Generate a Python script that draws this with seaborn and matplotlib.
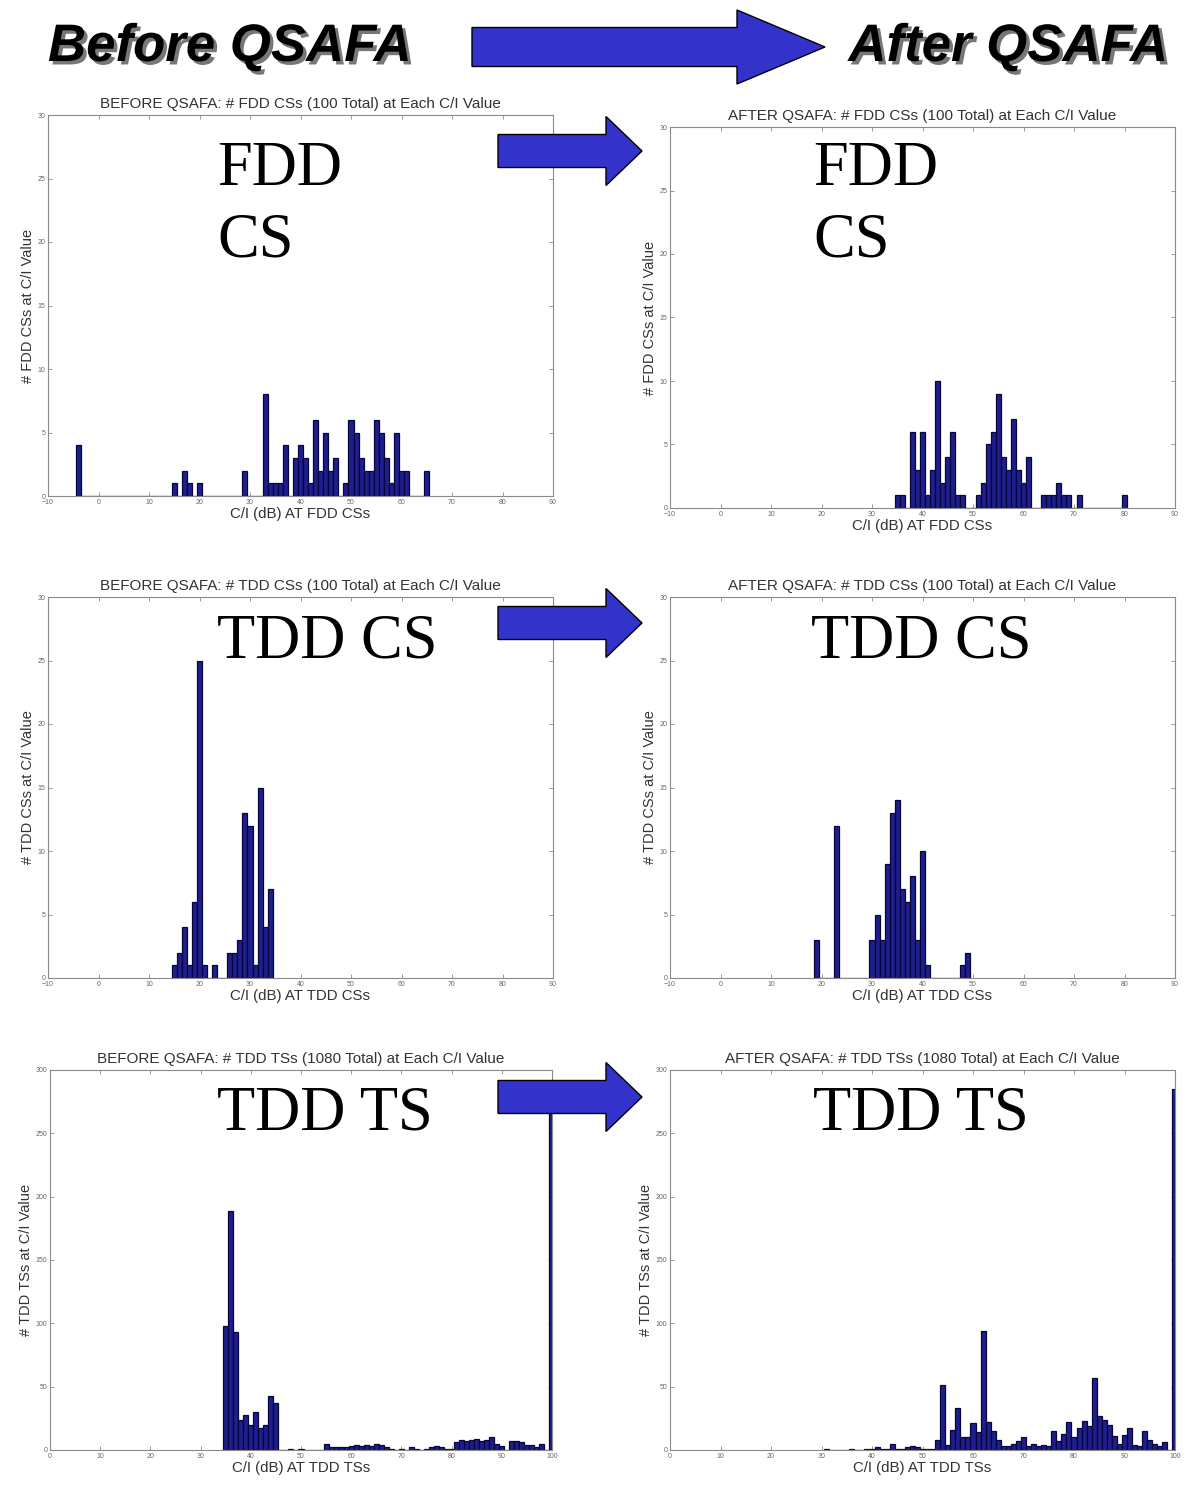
import numpy as np
import pandas as pd
import seaborn as sns
import matplotlib
matplotlib.use("Agg")
import matplotlib.pyplot as plt
import matplotlib.patheffects as pe
from matplotlib.patches import Polygon

# ---------------- data ----------------
fdd_before_x = [-4, 15, 17, 18, 20, 29, 33, 34, 35, 36, 37, 39, 40, 41, 42, 43, 44, 45, 46, 47,
                49, 50, 51, 52, 53, 54, 55, 56, 57, 58, 59, 60, 61, 65]
fdd_before_n = [4, 1, 2, 1, 1, 2, 8, 1, 1, 1, 4, 3, 4, 3, 1, 6, 2, 5, 2, 3,
                1, 6, 5, 3, 2, 2, 6, 5, 3, 1, 5, 2, 2, 2]

fdd_after_x = [35, 36, 38, 39, 40, 41, 42, 43, 44, 45, 46, 47, 48,
               51, 52, 53, 54, 55, 56, 57, 58, 59, 60, 61, 64, 65, 66, 67, 68, 69, 71, 80]
fdd_after_n = [1, 1, 6, 3, 6, 1, 3, 10, 2, 4, 6, 1, 1,
               1, 2, 5, 6, 9, 4, 3, 7, 3, 2, 4, 1, 1, 1, 2, 1, 1, 1, 1]

tddcs_before_x = [15, 16, 17, 18, 19, 20, 21, 23, 26, 27, 28, 29, 30, 31, 32, 33, 34]
tddcs_before_n = [1, 2, 4, 1, 6, 25, 1, 1, 2, 2, 3, 13, 12, 1, 15, 4, 7]

tddcs_after_x = [19, 23, 30, 31, 32, 33, 34, 35, 36, 37, 38, 39, 40, 41, 48, 49]
tddcs_after_n = [3, 12, 3, 5, 3, 9, 13, 14, 7, 6, 8, 3, 10, 1, 1, 2]

tddts_before_x = [35, 36, 37, 38, 39, 40, 41, 42, 43, 44, 45, 48, 50,
                  55, 56, 57, 58, 59, 60, 61, 62, 63, 64, 65, 66, 67, 68, 70, 72, 73,
                  75, 76, 77, 78, 79, 80, 81, 82, 83, 84, 85, 86, 87, 88, 89, 90,
                  92, 93, 94, 95, 96, 97, 98, 100]
tddts_before_n = [98, 189, 93, 24, 28, 20, 30, 17, 20, 43, 37, 1, 1,
                  5, 2, 2, 2, 2, 3, 4, 3, 4, 3, 5, 4, 2, 1, 1, 2, 1,
                  1, 2, 3, 2, 1, 1, 6, 8, 7, 8, 9, 7, 8, 10, 5, 3,
                  7, 7, 6, 4, 4, 2, 5, 282]

tddts_after_x = [31, 36, 39, 40, 41, 42, 43, 44, 45, 46, 47, 48, 49, 50, 51, 52,
                 53, 54, 55, 56, 57, 58, 59, 60, 61, 62, 63, 64, 65, 66, 67, 68, 69, 70,
                 71, 72, 73, 74, 75, 76, 77, 78, 79, 80, 81, 82, 83, 84, 85, 86, 87, 88, 89,
                 90, 91, 92, 93, 94, 95, 96, 97, 98, 100]
tddts_after_n = [1, 1, 1, 1, 2, 1, 1, 5, 1, 1, 2, 3, 2, 1, 1, 1,
                 8, 51, 4, 16, 33, 10, 10, 21, 14, 94, 22, 15, 8, 3, 3, 5, 7, 10,
                 3, 5, 3, 4, 3, 15, 7, 13, 22, 10, 17, 23, 19, 57, 27, 24, 20, 11, 5,
                 12, 17, 4, 3, 15, 8, 5, 3, 6, 285]

titles = [
    "BEFORE QSAFA: # FDD CSs (100 Total) at Each C/I Value",
    "AFTER QSAFA: # FDD CSs (100 Total) at Each C/I Value",
    "BEFORE QSAFA: # TDD CSs (100 Total) at Each C/I Value",
    "AFTER QSAFA: # TDD CSs (100 Total) at Each C/I Value",
    "BEFORE QSAFA: # TDD TSs (1080 Total) at Each C/I Value",
    "AFTER QSAFA: # TDD TSs (1080 Total) at Each C/I Value",
]
xlabels = ["C/I (dB) AT FDD CSs", "C/I (dB) AT FDD CSs",
           "C/I (dB) AT TDD CSs", "C/I (dB) AT TDD CSs",
           "C/I (dB) AT TDD TSs", "C/I (dB) AT TDD TSs"]
ylabels = ["# FDD CSs at C/I Value", "# FDD CSs at C/I Value",
           "# TDD CSs at C/I Value", "# TDD CSs at C/I Value",
           "# TDD TSs at C/I Value", "# TDD TSs at C/I Value"]
overlay_labels = ["FDD\nCS", "FDD\nCS", "TDD CS", "TDD CS", "TDD TS", "TDD TS"]
header_left = "Before QSAFA"
header_right = "After QSAFA"

cs_xticks = list(range(-10, 91, 10))
cs_yticks = list(range(0, 31, 5))
ts_xticks = list(range(0, 101, 10))
ts_yticks = list(range(0, 301, 50))

# ---------------- figure ----------------
sns.set_style("ticks")
plt.rcParams["font.family"] = ["Liberation Sans", "DejaVu Sans"]

W, H = 1186, 1486
fig = plt.figure(figsize=(W / 100, H / 100), dpi=100)
fig.patch.set_facecolor("white")


def fx(x):
    return x / W


def fy(y):
    return 1 - y / H


def add_ax(l, r, t, b):
    return fig.add_axes([fx(l), fy(b), fx(r) - fx(l), fy(t) - fy(b)])


panel_rects = [
    (48, 553, 115, 496),
    (670, 1175, 127, 508),
    (48, 553, 597, 978),
    (670, 1175, 597, 978),
    (50, 552, 1070, 1450),
    (670, 1175, 1070, 1450),
]
datasets = [
    (fdd_before_x, fdd_before_n), (fdd_after_x, fdd_after_n),
    (tddcs_before_x, tddcs_before_n), (tddcs_after_x, tddcs_after_n),
    (tddts_before_x, tddts_before_n), (tddts_after_x, tddts_after_n),
]

bar_face = "#1e1e8c"
bar_edge = "#06063c"
axis_gray = "#8a8a8a"
text_gray = "#333333"

for i, (rect, (xs, ns)) in enumerate(zip(panel_rects, datasets)):
    ax = add_ax(*rect)
    df = pd.DataFrame({"ci": xs, "count": ns})
    sns.histplot(data=df, x="ci", weights="count", discrete=True, shrink=1.0,
                 color=bar_face, edgecolor=bar_edge, linewidth=0.9, alpha=1.0, ax=ax)
    is_ts = i >= 4
    if is_ts:
        ax.set_xlim(0, 100)
        ax.set_ylim(0, 300)
        ax.set_xticks(ts_xticks)
        ax.set_yticks(ts_yticks)
    else:
        ax.set_xlim(-10, 90)
        ax.set_ylim(0, 30)
        ax.set_xticks(cs_xticks)
        ax.set_yticks(cs_yticks)
    ax.tick_params(direction="in", top=True, right=True, length=3, width=0.6,
                   labelsize=5, colors=axis_gray, labelcolor="#666666", pad=2)
    for s in ax.spines.values():
        s.set_color(axis_gray)
        s.set_linewidth(0.8)
    ax.set_title(titles[i], fontsize=11, color=text_gray, pad=5)
    ax.set_xlabel(xlabels[i], fontsize=10.8, color=text_gray, labelpad=1)
    ax.set_ylabel(ylabels[i], fontsize=10.5, color=text_gray, labelpad=2)

# big overlay labels (serif)
serif = ["Liberation Serif", "DejaVu Serif"]
big = 45
fig.text(fx(217), fy(141), overlay_labels[0], fontsize=big, family=serif, color="black",
         va="top", ha="left", linespacing=1.3)
fig.text(fx(813), fy(141), overlay_labels[1], fontsize=big, family=serif, color="black",
         va="top", ha="left", linespacing=1.3)
fig.text(fx(217), fy(614), overlay_labels[2], fontsize=big, family=serif, color="black",
         va="top", ha="left")
fig.text(fx(811), fy(614), overlay_labels[3], fontsize=big, family=serif, color="black",
         va="top", ha="left")
fig.text(fx(217), fy(1086), overlay_labels[4], fontsize=big, family=serif, color="black",
         va="top", ha="left")
fig.text(fx(813), fy(1086), overlay_labels[5], fontsize=big, family=serif, color="black",
         va="top", ha="left")

# header texts with shadow
shadow = [pe.withSimplePatchShadow(offset=(2.5, -2.5), shadow_rgbFace="#777777", alpha=1.0)]
fig.text(fx(48), fy(47), header_left, fontsize=38, fontweight="bold", fontstyle="italic",
         va="center", ha="left", color="black", path_effects=shadow)
fig.text(fx(1168), fy(47), header_right, fontsize=38, fontweight="bold", fontstyle="italic",
         va="center", ha="right", color="black", path_effects=shadow)


# arrows
def arrow(x0, x1, xh, yc, shaft_h, head_h):
    pts = [(x0, yc - shaft_h / 2), (xh, yc - shaft_h / 2), (xh, yc - head_h / 2),
           (x1, yc), (xh, yc + head_h / 2), (xh, yc + shaft_h / 2), (x0, yc + shaft_h / 2)]
    poly = Polygon([(fx(px), fy(py)) for px, py in pts], closed=True,
                   transform=fig.transFigure, facecolor="#3333cc", edgecolor="black",
                   linewidth=1.0, zorder=10)
    fig.add_artist(poly)


arrow(472, 825, 737, 47, 39, 74)
arrow(498, 642, 606, 151, 33, 69)
arrow(498, 642, 606, 623, 33, 69)
arrow(498, 642, 606, 1097, 33, 69)

fig.savefig("out.png", dpi=100, facecolor="white")
